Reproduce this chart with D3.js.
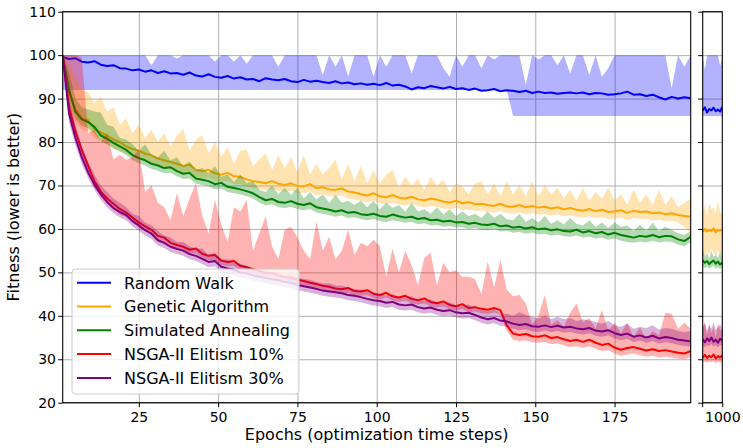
<!DOCTYPE html>
<html><head><meta charset="utf-8">
<script src="https://cdn.jsdelivr.net/npm/d3@7"></script>
<style>body{margin:0;background:#fff}svg{display:block;font-family:"DejaVu Sans",sans-serif}</style>
</head><body><svg id="c" width="743" height="448"></svg>
<script>
const epochs=[1,3,5,7,9,11,13,15,17,19,21,23,25,27,29,31,33,35,37,39,41,43,45,47,49,51,53,55,57,59,61,63,65,67,69,71,73,75,77,79,81,83,85,87,89,91,93,95,97,99,101,103,105,107,109,111,113,115,117,119,121,123,125,127,129,131,133,135,137,139,141,143,145,147,149,151,153,155,157,159,161,163,165,167,169,171,173,175,177,179,181,183,185,187,189,191,193,195,197,199];
const tailEpochs=[982,984,986,988,990,992,994,996,998,1000];
const seriesNames=["Random Walk","Genetic Algorithm","Simulated Annealing","NSGA-II Elitism 10%","NSGA-II Elitism 30%"];
const seriesColors=["blue","orange","green","red","purple"];
const yTicks=[20,30,40,50,60,70,80,90,100,110];
const xTicks=[25,50,75,100,125,150,175];
const tailTicks=[1000];

const rwMean=[99.6,99.1,99.3,98.5,98.3,98.6,97.8,97.5,97.7,97.0,96.9,96.5,96.7,96.2,96.5,95.9,96.3,95.8,95.9,95.5,96.0,95.3,95.1,95.6,95.0,94.8,95.2,94.6,94.9,94.4,94.5,94.0,94.7,94.4,94.2,94.5,94.0,93.8,94.3,93.9,94.1,93.8,93.6,94.0,93.5,93.7,93.3,93.5,93.2,93.4,93.1,93.6,93.0,93.2,92.8,92.1,92.6,92.4,92.9,92.6,92.3,92.7,92.2,92.4,92.0,92.3,91.8,91.9,92.2,91.7,91.9,91.8,91.5,91.8,91.3,91.6,91.3,91.4,91.1,91.3,91.4,91.2,91.4,91.0,91.3,91.2,90.9,91.0,91.2,91.6,90.9,91.0,90.6,90.9,90.3,89.8,90.4,90.0,90.3,90.1];
const rwLo=[92,92,92,92,92,92,92,92,92,92,92,92,92,92,92,92,92,92,92,92,92,92,92,92,92,92,92,92,92,92,92,92,92,92,92,92,92,92,92,92,92,92,92,92,92,92,92,92,92,92,92,92,92,92,92,92,92,92,92,92,92,92,92,92,92,92,92,92,92,92,92,86,86,86,86,86,86,86,86,86,86,86,86,86,86,86,86,86,86,86,86,86,86,86,86,86,86,86,86,86];
const rwHi=[100,100,100,100,100,100,100,100,100,100,100,100,100,100,97.7,100,100,100,99.2,100,100,100,100,100,98.5,100,100,98.5,100,98.0,100,100,100,100,97.3,100,100,100,100,100,100,95.4,100,97.3,100,95.0,100,100,100,95.0,100,97.3,100,100,100,95.8,100,100,100,100,97.0,95.0,100,97.3,100,100,97.0,100,99.0,100,100,100,100,93.1,100,99.0,100,100,97.7,100,95.8,100,100,95.4,100,95.0,97.0,100,100,100,100,100,100,100,100,100,92.4,100,97.3,100];

const gaMean=[100,91.5,87.5,85.5,85.0,83.0,82.2,81.5,80.6,80.0,79.0,78.4,78.0,77.3,77.0,76.2,75.8,75.4,75.0,74.5,74.8,73.6,73.3,73.6,72.8,72.5,72.9,72.1,72.0,71.4,71.0,70.8,70.5,71.0,70.4,70.1,70.5,69.9,69.8,70.3,69.4,69.6,69.1,69.0,69.3,68.6,68.4,68.0,67.7,68.2,67.5,67.3,67.8,67.2,67.0,67.4,66.8,66.6,67.0,66.7,66.3,66.1,66.5,65.9,66.2,65.7,65.8,65.5,65.3,65.8,65.2,65.1,65.5,65.0,65.3,64.9,65.1,64.7,65.0,64.5,64.8,64.4,64.2,64.6,64.1,64.4,63.9,64.0,64.3,63.7,64.2,63.9,64.0,63.6,63.8,63.4,63.6,63.2,63.0,62.8];
const gaLo=[100,88,84.5,83,82.5,81,80,79.5,78.6,78,77.3,76.6,76.2,75.5,75.2,74.5,74,73.7,73.3,72.8,72.8,72,71.6,71.8,71.1,70.8,71.1,70.4,70.3,69.8,69.4,69.2,68.9,69.2,68.8,68.5,68.8,68.3,68.2,68.6,67.8,68,67.5,67.4,67.7,67,66.8,66.4,66.1,66.5,65.9,65.7,66.1,65.6,65.4,65.8,65.2,65,65.3,65.1,64.7,64.5,64.8,64.3,64.5,64.1,64.2,63.9,63.7,64.1,63.6,63.5,63.8,63.4,63.6,63.3,63.4,63.1,63.3,62.9,63.1,62.8,62.6,62.9,62.5,62.7,62.3,62.4,62.6,62.1,62.5,62.3,62.3,62.0,62.1,61.8,61.9,61.5,60.5,59];
const gaHi=[100,98,95,92,91.5,89,90.5,87,88,84,85.5,82,84,81,82.8,80,82,79,81.5,83,78,80.5,81.6,77.5,80,76.5,79,75,78,78.2,74.5,76,77.4,73.5,77,74,76.5,73,77,72.5,75,72.5,74,76,71.5,75,71,74.5,70.5,73.5,70.5,72.5,73.6,69.5,72,70,71.5,69,72,70,71.3,68.5,70.5,69.7,68,70.5,71,68,70.5,67.5,71,68,70,67.5,71,67.5,70,68,69.5,67,69,66.5,69.5,66.5,68.5,67,69.5,66.5,68,65.5,69,66,68,65.5,69,65.5,67.5,65,66,67];

const saMean=[100,92,87,85.2,84.6,83.5,81.5,80.8,79.8,79.0,78.2,77.0,76.3,75.8,75.0,74.6,74.0,74.2,73.3,72.7,72.9,71.6,71.3,71.0,70.3,70.6,69.7,69.4,69.1,68.7,68.2,67.3,66.6,66.9,66.2,66.0,66.4,65.8,65.5,65.9,65.0,64.7,64.4,64.0,64.3,63.7,63.9,63.4,63.2,63.5,63.0,62.8,63.3,62.9,62.6,62.8,62.3,62.5,62.0,62.1,61.7,61.9,61.5,61.6,61.2,61.4,61.0,60.9,61.2,60.6,60.8,60.3,60.5,60.1,60.4,59.9,60.1,59.7,59.9,59.5,59.4,59.8,59.2,59.5,59.0,59.3,58.7,59.1,58.6,58.3,58.0,58.4,58.2,58.6,58.1,58.4,58.3,57.6,57.2,58.2];
const saLo=[100,89,85.3,83.8,83.2,82,80.2,79.5,78.5,77.8,77,75.8,75.1,74.6,73.8,73.4,72.8,72.9,72.1,71.5,71.6,70.4,70.1,69.8,69.1,69.3,68.5,68.2,67.9,67.5,67,66.1,65.4,65.7,65,64.8,65.1,64.6,64.3,64.6,63.8,63.5,63.2,62.8,63.1,62.5,62.7,62.2,62,62.3,61.8,61.6,62,61.7,61.4,61.6,61.1,61.3,60.8,60.9,60.5,60.7,60.3,60.4,60,60.2,59.8,59.7,60,59.4,59.6,59.1,59.3,58.9,59.2,58.7,58.9,58.5,58.7,58.3,58.2,58.5,58,58.2,57.8,58,57.5,57.8,57.3,57,56.8,57.1,56.9,57.3,56.9,57.1,57,56.4,56,57];
const saHi=[100,96,90,88,87.5,87,86.8,84,83.5,81,80.5,79.5,78,79.5,77,76.5,78,75.8,76.5,74.5,75.5,73.5,74,72.8,74.5,72,72.5,70.8,72.5,70.5,71,69,68.5,70,68,69.5,67.8,69.5,67,68.5,66.8,68,66,67.8,66,66.5,65.5,66.5,65,66.5,64.5,66,64.8,65.5,64,66,64,64.5,63.5,65,63.3,64.5,63,64,63,63.5,62.5,64,62.6,63.5,62.3,62,63.5,61.6,62.5,61.5,63,61.2,62,61,62.5,61.2,60.8,62,60.5,61.5,60.2,61.5,60.5,60.8,59.5,61,59.6,61.5,59.5,60.5,59.8,59,58.6,59.5];

const n10Mean=[100,88,82.5,78.2,74.5,71,68.6,67,65.8,64.6,63.8,62.6,61.5,60.6,59.8,58.4,58.0,56.8,56.3,55.9,55.2,55.5,54.3,53.8,54.0,52.7,52.4,52.6,51.5,51.2,50.7,50.3,49.8,49.9,49.3,49.0,48.8,48.3,48.0,47.6,47.3,46.9,46.7,46.3,46.1,46.4,45.7,45.6,45.9,45.1,44.8,45.3,44.5,44.2,44.6,43.9,43.6,44.0,43.2,42.9,43.3,42.5,42.2,42.7,41.8,42.0,41.6,41.4,41.8,41.3,37.8,35.9,35.6,35.8,35.3,35.2,35.5,34.9,35.1,34.6,34.2,34.5,34.0,34.5,33.8,33.3,33.6,32.7,32.2,32.6,32.8,32.4,32.0,32.3,31.9,32.1,31.8,31.5,31.3,31.9];
const n10Lo=[100,86,80.5,76.5,73,69.6,67.4,65.8,64.6,63.4,62.7,61.5,60.4,59.5,58.7,57.3,56.9,55.8,55.2,54.8,54.2,54.4,53.3,52.8,52.9,51.7,51.4,51.5,50.5,50.2,49.7,49.3,48.8,48.9,48.3,48,47.8,47.3,47,46.6,46.3,45.9,45.7,45.3,45.1,45.3,44.7,44.6,44.8,44.1,43.8,44.2,43.5,43.2,43.5,42.9,42.6,42.9,42.2,41.9,42.2,41.5,41.2,41.6,40.8,41,40.6,40.4,40.8,40.3,36.5,34.5,34.2,34.3,33.9,33.8,34,33.5,33.6,33.2,32.8,33,32.6,33,32.4,31.9,32.1,31.3,30.8,31.1,31.3,30.9,30.6,30.8,30.4,30.6,30.4,30.1,30,30.5];
const n10Hi=[100,100,100,99.5,82,82.8,80,82,76,77,75.9,76.5,78.2,68.5,70,66,65,62,68.2,63,67,70.5,63,59,66.7,61,57,65,64,66.7,55,59,62.9,56,53,59.8,60.5,58,55,53,61.7,55,58.2,53,55,59.8,54,56.8,56,57.5,56,49,55.5,50,55,51.7,47,53.3,54.5,47,52.2,50,50.5,49,49,48.5,45,52.5,46.5,52.9,46,44.5,44.8,42.9,38,40,44.8,38,39,37.5,40.7,42.9,38.5,39.5,37,41.4,36.5,38.4,36,38.4,35,37.5,34.5,36.5,35.5,40.7,40.5,37,38.4,37];

const n30Mean=[100,86.5,81,76.5,73,70.2,68,66.2,64.8,63.9,63.2,61.8,60.8,59.7,58.9,57.4,56.8,55.9,55.4,55.0,54.2,53.8,53.1,52.4,52.6,51.3,50.9,50.6,50.0,49.8,49.3,49.0,48.7,48.4,48.2,47.8,47.6,47.1,46.8,46.5,46.2,45.8,45.6,45.4,45.2,44.8,44.6,44.3,43.9,43.6,43.4,43.0,43.2,42.6,42.4,42.6,42.0,41.7,41.9,41.4,41.1,41.3,40.8,40.6,40.7,40.2,39.6,39.2,39.5,38.9,38.7,38.2,37.9,38.1,37.6,37.5,37.8,37.4,37.7,37.3,37.5,37.1,36.9,37.2,36.6,36.4,36.7,36.0,35.6,35.9,35.2,35.5,35.0,35.4,34.8,35.1,34.9,34.5,34.3,34.1];
const n30Lo=[100,84.5,79.3,75,71.7,69,66.8,65,63.6,62.7,62,60.6,59.6,58.5,57.7,56.2,55.6,54.7,54.2,53.8,53,52.6,51.9,51.2,51.4,50.1,49.7,49.4,48.8,48.6,48.1,47.8,47.5,47.2,47,46.6,46.4,45.9,45.6,45.3,45,44.6,44.4,44.2,44,43.6,43.4,43.1,42.7,42.4,42.2,41.8,42,41.4,41.2,41.4,40.8,40.5,40.7,40.2,39.9,40.1,39.6,39.4,39.5,39,38.4,38,38.3,37.7,37.5,37,36.7,36.9,36.4,36.3,36.6,36.2,36.5,36.1,36.3,35.9,35.7,36,35.4,35.2,35.5,34.8,34.4,34.7,34,34.3,33.8,34.2,33.6,33.9,33.7,33.3,33.1,32.9];
const n30Hi=[100,90,84,79,75.5,72.5,70,68.5,67,66,65,63.5,63,61.5,60.8,59.5,58.5,58,57,57,56,55.5,55.5,54,54.5,53,53,52.3,52,51.5,51,50.5,50.5,50,50,49.3,49.5,48.8,48.5,48.3,47.8,47.5,47.5,47,47,46.5,46.2,46,45.5,45.3,45,44.7,45,44.2,44.2,44.5,43.6,43.4,43.8,43,42.8,43.2,42.4,42.4,42.6,41.8,41.4,41,41.5,40.5,40.5,40,40.8,40.2,39.8,39.4,40,39.2,39.8,39.2,39.5,38.8,39.2,38.9,38.6,38.2,38.8,37.8,37.5,38.2,37,37.4,37.2,37.8,36.8,37.2,37,36.5,36.2,36.5];

const rwTailMean=[87.2,88.0,86.8,87.6,87.3,87.9,87.1,87.5,87.0,88.1];
const rwTailLo=[86,86,86,86,86,86,86,86,86,86];
const rwTailHi=[100,96.5,100,100,100,100,100,100,97.5,100];
const gaTailMean=[59.3,60.0,59.4,59.8,59.5,60.1,59.2,59.7,59.6,59.9];
const gaTailLo=[54,53.5,55,54,55.5,54.5,53.5,55,54.5,54];
const gaTailHi=[64,65.5,63,66,64.5,65,63.5,66.5,64,63];
const saTailMean=[52.8,52.2,52.6,51.9,52.4,52.7,52.0,52.5,51.8,52.3];
const saTailLo=[51.3,51,51.4,50.9,51.2,51.5,50.8,51.3,50.7,51.2];
const saTailHi=[55.5,53.5,54.5,53.3,55,53.6,54,53.3,54.8,53.5];
const n10TailMean=[30.4,31.0,30.3,30.8,30.5,31.1,30.2,30.7,30.4,30.9];
const n10TailLo=[29.3,29.5,29.2,29.4,29.3,29.6,29.1,29.4,29.2,29.5];
const n10TailHi=[37,38.5,35.5,38,36,37.5,35,38.3,36.5,37];
const n30TailMean=[34.6,33.9,34.8,34.2,35.0,34.0,34.5,33.8,34.7,34.3];
const n30TailLo=[33,32.8,33.3,33,33.5,32.9,33.2,32.7,33.3,33];
const n30TailHi=[37.5,38.3,36.5,38,37,38.5,36.8,37.5,38,37];

const main=[[rwMean,rwLo,rwHi],[gaMean,gaLo,gaHi],[saMean,saLo,saHi],[n10Mean,n10Lo,n10Hi],[n30Mean,n30Lo,n30Hi]];
const tail=[[rwTailMean,rwTailLo,rwTailHi],[gaTailMean,gaTailLo,gaTailHi],[saTailMean,saTailLo,saTailHi],[n10TailMean,n10TailLo,n10TailHi],[n30TailMean,n30TailLo,n30TailHi]];

const svg=d3.select("#c");
const P={l:62.7,r:690.7,t:11.7,b:402.7};
const Q={l:702.7,r:722.3};
const x=d3.scaleLinear().domain([1,199]).range([P.l,P.r]);
const xt=d3.scaleLinear().domain([982,1000]).range([Q.l,Q.r]);
const y=d3.scaleLinear().domain([20,110]).range([P.b,P.t]);

const defs=svg.append("defs");
defs.append("clipPath").attr("id","cm").append("rect").attr("x",P.l).attr("y",P.t).attr("width",P.r-P.l).attr("height",P.b-P.t);
defs.append("clipPath").attr("id","ct").append("rect").attr("x",Q.l).attr("y",P.t).attr("width",Q.r-Q.l).attr("height",P.b-P.t);

// grid
const gridStyle=g=>{g.select(".domain").remove();g.selectAll("line").attr("stroke","#b0b0b0").attr("stroke-width",1);g.selectAll("text").remove();};
svg.append("g").attr("transform",`translate(0,${P.b})`).call(d3.axisBottom(x).tickValues(xTicks).tickSize(-(P.b-P.t))).call(gridStyle);
svg.append("g").attr("transform",`translate(${P.l},0)`).call(d3.axisLeft(y).tickValues(yTicks).tickSize(-(P.r-P.l))).call(gridStyle);
svg.append("g").attr("transform",`translate(${Q.l},0)`).call(d3.axisLeft(y).tickValues(yTicks).tickSize(-(Q.r-Q.l))).call(gridStyle);

function drawPanel(sets,xs,xscale,clip){
  const g=svg.append("g").attr("clip-path",`url(#${clip})`);
  sets.forEach((s,k)=>{
    const rows=xs.map((e,i)=>({e,m:s[0][i],lo:s[1][i],hi:s[2][i]}));
    g.append("path").datum(rows).attr("fill",seriesColors[k]).attr("fill-opacity",0.3).attr("stroke","none")
      .attr("d",d3.area().x(d=>xscale(d.e)).y0(d=>y(d.lo)).y1(d=>y(d.hi)));
    g.append("path").datum(rows).attr("fill","none").attr("stroke",seriesColors[k]).attr("stroke-width",2).attr("stroke-linejoin","round")
      .attr("d",d3.line().x(d=>xscale(d.e)).y(d=>y(d.m)));
  });
}
drawPanel(main,epochs,x,"cm");
drawPanel(tail,tailEpochs,xt,"ct");

// axes
const axStyle=(g,fs)=>{g.select(".domain").remove();g.selectAll("line").attr("stroke","#000").attr("stroke-width",1);g.selectAll("text").attr("fill","#000").style("font-size",fs+"px").style("font-family","DejaVu Sans");g.attr("font-family",null).attr("font-size",null);};
svg.append("g").attr("transform",`translate(0,${P.b})`).call(d3.axisBottom(x).tickValues(xTicks).tickSize(4.5).tickPadding(4.5).tickSizeOuter(0)).call(g=>axStyle(g,14));
svg.append("g").attr("transform",`translate(${P.l},0)`).call(d3.axisLeft(y).tickValues(yTicks).tickSize(4.5).tickPadding(2.2).tickSizeOuter(0)).call(g=>axStyle(g,14));
svg.append("g").attr("transform",`translate(${Q.l},0)`).call(d3.axisLeft(y).tickValues(yTicks).tickSize(4.5).tickFormat("").tickSizeOuter(0)).call(g=>axStyle(g,14));
svg.append("g").attr("transform",`translate(0,${P.b})`).call(d3.axisBottom(xt).tickValues(tailTicks).tickFormat(d3.format("d")).tickSize(4.5).tickPadding(4.5).tickSizeOuter(0)).call(g=>axStyle(g,14));
svg.append("line").attr("x1",Q.l).attr("x2",Q.l).attr("y1",P.b).attr("y2",P.b+4.5).attr("stroke","#000");

// spines
svg.append("rect").attr("x",P.l).attr("y",P.t).attr("width",P.r-P.l).attr("height",P.b-P.t).attr("fill","none").attr("stroke","#000").attr("stroke-width",1.1);
svg.append("rect").attr("x",Q.l).attr("y",P.t).attr("width",Q.r-Q.l).attr("height",P.b-P.t).attr("fill","none").attr("stroke","#000").attr("stroke-width",1.1);

// labels
svg.append("text").attr("x",(P.l+P.r)/2).attr("y",440).attr("text-anchor","middle").style("font-size","16px").text("Epochs (optimization time steps)");
svg.append("text").attr("transform",`translate(19,${(P.t+P.b)/2}) rotate(-90)`).attr("text-anchor","middle").style("font-size","16px").text("Fitness (lower is better)");

// legend
const lg=svg.append("g");
lg.append("rect").attr("x",72).attr("y",269).attr("width",227).attr("height",125).attr("rx",3.5).attr("fill","#fff").attr("fill-opacity",0.8).attr("stroke","#cccccc").attr("stroke-width",1);
seriesNames.forEach((n,i)=>{
  const yy=282.7+i*23.8;
  lg.append("line").attr("x1",77).attr("x2",111).attr("y1",yy).attr("y2",yy).attr("stroke",seriesColors[i]).attr("stroke-width",2);
  lg.append("text").attr("x",124).attr("y",yy+5.8).style("font-size","16px").text(n);
});
</script></body></html>
